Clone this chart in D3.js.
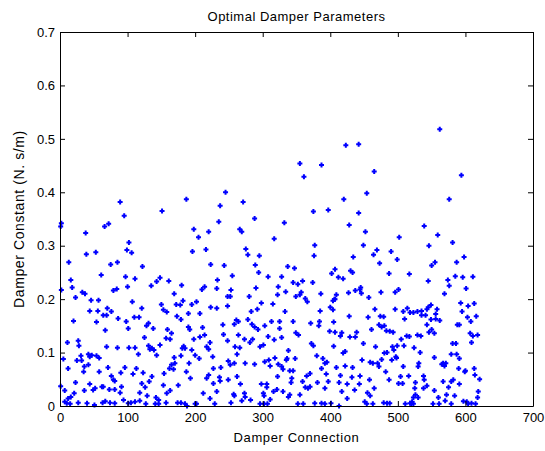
<!DOCTYPE html>
<html>
<head>
<meta charset="utf-8">
<script src="https://cdn.jsdelivr.net/npm/d3@7"></script>
<style>
  html, body { margin: 0; padding: 0; background: #fff; }
  svg { display: block; }
  text { font-family: "Liberation Sans", Arial, Helvetica, sans-serif; fill: #000; }
</style>
</head>
<body>
<svg id="chart" width="545" height="451"></svg>
<script>
// Damper connection index and the optimal damper constant found for it
const connection = [
  89,95,2,1,66,72,38,102,99,106,39,53,13,85,75,122,16,61,97,111,2,18,79,84,100,33,37,23,46,57,107,44,56,70,64,69,76,86,110,117,
  54,98,20,101,67,125,11,27,28,69,85,102,111,116,42,47,44,54,58,5,25,32,31,12,36,35,42,58,71,96,90,113,108,123,76,79,81,1,23,44,
  62,64,52,49,73,81,91,89,121,118,7,36,21,16,12,7,10,15,27,40,51,63,67,74,81,94,101,111,118,105,
  245,187,237,151,235,198,205,220,196,216,223,243,143,148,135,161,180,210,214,233,232,248,169,150,153,158,172,178,182,195,202,223,232,248,121,190,207,173,179,131,
  128,138,190,192,211,159,165,163,157,241,242,248,198,207,214,222,217,220,183,185,181,131,136,139,133,148,143,195,200,206,169,179,226,249,191,162,165,168,170,227,
  238,154,187,136,132,193,220,217,236,237,126,153,175,227,249,163,158,212,232,129,142,146,222,127,141,146,157,174,179,185,188,200,202,229,
  355,361,271,375,288,332,266,269,317,275,278,295,377,376,289,294,337,347,255,308,328,345,352,359,374,253,252,290,323,322,334,357,355,349,363,366,280,298,315,292,
  283,333,261,264,258,278,284,288,293,303,313,325,325,345,371,349,353,264,273,285,281,308,317,328,259,266,296,301,372,375,262,338,252,258,274,288,303,311,318,309,
  323,328,330,335,336,348,340,345,370,365,262,322,343,342,359,363,367,370,267,298,306,306,316,321,330,257,258,273,274,301,302,338,340,355,253,269,282,296,302,307,
  311,352,360,
  423,442,387,465,420,454,397,442,428,452,502,449,469,464,490,434,499,473,407,402,430,433,412,419,487,386,409,407,404,406,427,437,444,446,445,457,475,496,501,385,
  400,404,466,496,428,456,474,479,384,383,405,461,472,476,480,483,488,493,399,407,417,415,439,429,437,405,449,467,492,494,499,480,484,419,422,380,389,392,395,447,
  459,463,470,472,476,491,497,498,387,409,422,433,394,415,432,444,482,458,487,501,381,397,413,425,443,392,436,465,455,459,417,425,377,387,392,401,413,451,454,463,
  479,484,488,
  562,594,576,539,559,546,581,598,555,550,587,517,545,574,576,585,596,611,601,569,593,613,604,514,508,518,523,529,535,545,549,543,541,535,558,556,556,562,510,595,
  616,603,608,588,591,549,543,550,546,554,607,611,618,609,513,517,529,534,505,509,581,586,524,533,579,587,591,554,565,569,567,571,531,530,508,590,599,600,613,614,
  504,516,538,539,621,507,526,567,579,582,591,525,543,538,575,619,554,572,584,526,530,523,560,618,597,570,511,518,521,520,523,552,561,579,602,604,609,615
];
const damperConstant = [
  0.382,0.356,0.342,0.336,0.336,0.341,0.324,0.306,0.292,0.287,0.284,0.288,0.269,0.269,0.265,0.261,0.236,0.245,0.242,0.238,0.217,0.222,0.216,0.219,0.223,0.213,0.210,0.203,0.198,0.198,0.195,0.178,0.178,0.183,0.170,0.170,0.177,0.164,0.166,0.166,
  0.157,0.158,0.159,0.145,0.142,0.128,0.119,0.122,0.113,0.111,0.109,0.109,0.109,0.097,0.097,0.095,0.092,0.094,0.090,0.088,0.085,0.085,0.094,0.070,0.074,0.064,0.077,0.064,0.072,0.072,0.062,0.070,0.060,0.062,0.056,0.049,0.047,0.037,0.044,0.041,
  0.036,0.036,0.033,0.030,0.031,0.031,0.036,0.025,0.042,0.025,0.029,0.029,0.024,0.017,0.014,0.008,0.005,0.004,0.006,0.005,0.002,0.006,0.009,0.006,0.005,0.011,0.005,0.008,0.010,0.006,
  0.400,0.387,0.375,0.365,0.345,0.331,0.316,0.326,0.289,0.293,0.265,0.263,0.233,0.240,0.225,0.234,0.226,0.218,0.223,0.236,0.220,0.205,0.210,0.190,0.180,0.176,0.190,0.189,0.197,0.190,0.195,0.185,0.183,0.187,0.183,0.173,0.173,0.168,0.162,0.155,
  0.150,0.145,0.148,0.143,0.147,0.143,0.136,0.125,0.127,0.152,0.134,0.122,0.125,0.129,0.133,0.119,0.111,0.106,0.112,0.108,0.108,0.113,0.108,0.105,0.106,0.114,0.095,0.105,0.095,0.089,0.091,0.094,0.092,0.084,0.080,0.070,0.077,0.069,0.080,0.070,
  0.072,0.061,0.064,0.055,0.046,0.052,0.058,0.052,0.054,0.047,0.035,0.039,0.039,0.042,0.049,0.029,0.024,0.024,0.027,0.019,0.016,0.011,0.014,0.004,0.004,0.004,0.006,0.006,0.006,0.004,0.000,0.004,0.004,0.004,
  0.454,0.429,0.382,0.364,0.351,0.343,0.331,0.326,0.313,0.294,0.283,0.281,0.301,0.281,0.264,0.250,0.261,0.258,0.244,0.242,0.242,0.231,0.228,0.234,0.231,0.217,0.205,0.221,0.223,0.208,0.214,0.213,0.208,0.205,0.201,0.195,0.205,0.193,0.191,0.181,
  0.177,0.177,0.161,0.158,0.153,0.162,0.153,0.148,0.143,0.150,0.158,0.158,0.145,0.158,0.155,0.137,0.133,0.133,0.125,0.125,0.119,0.130,0.124,0.128,0.111,0.109,0.111,0.114,0.117,0.113,0.097,0.104,0.077,0.080,0.080,0.078,0.083,0.075,0.090,0.086,
  0.078,0.074,0.069,0.086,0.089,0.089,0.066,0.066,0.061,0.056,0.055,0.055,0.052,0.044,0.046,0.035,0.033,0.036,0.041,0.041,0.041,0.035,0.027,0.031,0.027,0.022,0.019,0.024,0.017,0.024,0.019,0.017,0.021,0.021,0.006,0.010,0.011,0.004,0.004,0.004,
  0.012,0.004,0.004,
  0.488,0.490,0.451,0.439,0.387,0.398,0.367,0.361,0.339,0.326,0.316,0.301,0.292,0.283,0.289,0.279,0.274,0.267,0.256,0.248,0.253,0.250,0.241,0.238,0.248,0.210,0.208,0.200,0.197,0.200,0.212,0.216,0.218,0.211,0.222,0.203,0.213,0.213,0.218,0.178,
  0.185,0.180,0.181,0.181,0.168,0.166,0.168,0.167,0.158,0.150,0.157,0.143,0.152,0.148,0.150,0.141,0.140,0.138,0.140,0.138,0.137,0.131,0.138,0.129,0.129,0.112,0.117,0.111,0.111,0.105,0.113,0.099,0.100,0.099,0.102,0.094,0.089,0.080,0.082,0.086,
  0.082,0.080,0.080,0.074,0.087,0.086,0.092,0.090,0.070,0.072,0.075,0.072,0.060,0.057,0.054,0.056,0.064,0.049,0.049,0.042,0.044,0.046,0.044,0.041,0.041,0.033,0.030,0.033,0.025,0.019,0.027,0.014,0.005,0.005,0.004,0.005,0.000,0.008,0.004,0.004,
  0.006,0.005,0.005,
  0.518,0.432,0.387,0.337,0.320,0.300,0.306,0.279,0.269,0.263,0.269,0.247,0.234,0.236,0.225,0.243,0.241,0.242,0.220,0.210,0.193,0.192,0.187,0.183,0.177,0.175,0.175,0.177,0.178,0.185,0.189,0.181,0.170,0.170,0.181,0.172,0.163,0.160,0.163,0.177,
  0.168,0.166,0.158,0.152,0.152,0.162,0.152,0.143,0.138,0.136,0.136,0.131,0.133,0.119,0.131,0.130,0.133,0.131,0.125,0.113,0.117,0.117,0.109,0.100,0.097,0.097,0.089,0.091,0.078,0.075,0.080,0.080,0.080,0.074,0.074,0.070,0.064,0.066,0.070,0.058,
  0.055,0.056,0.056,0.049,0.050,0.042,0.044,0.046,0.046,0.049,0.041,0.033,0.038,0.033,0.035,0.027,0.029,0.021,0.019,0.021,0.016,0.016,0.016,0.016,0.009,0.010,0.004,0.005,0.008,0.004,0.004,0.004,0.004,0.004,0.008,0.004,0.005,0.004
];
const xTicks = [0, 100, 200, 300, 400, 500, 600, 700];
const yTicks = [0, 0.1, 0.2, 0.3, 0.4, 0.5, 0.6, 0.7];

const chartTitle = "Optimal Damper Parameters";
const xTitle = "Damper Connection";
const yTitle = "Damper Constant (N. s/m)";

const svg = d3.select("#chart");
const margin = { top: 32, right: 12, bottom: 45, left: 60 };
const width = 545 - margin.left - margin.right;
const height = 451 - margin.top - margin.bottom;

const x = d3.scaleLinear().domain([0, 700]).range([0, width]);
const y = d3.scaleLinear().domain([0, 0.7]).range([height, 0]);

const g = svg.append("g").attr("transform", `translate(${margin.left},${margin.top})`);

// markers
const points = connection.map((c, i) => ({ c, v: damperConstant[i] }));
const plus = "M-1,-2.5H1V-1H2.5V1H1V2.5H-1V1H-2.5V-1H-1Z";
g.append("g")
  .selectAll("path")
  .data(points)
  .join("path")
  .attr("d", plus)
  .attr("transform", d => `translate(${x(d.c)},${y(d.v)})`)
  .attr("fill", "#0000ff");

// axes with inward ticks on all four sides (boxed frame)
const fontSize = 13;
const styleAxis = sel => {
  sel.selectAll("path.domain").attr("stroke", "#000").attr("stroke-width", 1);
  sel.selectAll(".tick line").attr("stroke", "#000");
  sel.selectAll("text").attr("font-size", fontSize).attr("font-family", "Liberation Sans, Arial, sans-serif").attr("fill", "#000");
};

g.append("g").attr("transform", `translate(0,${height})`)
  .call(d3.axisBottom(x).tickValues(xTicks).tickSizeInner(-5).tickSizeOuter(0).tickPadding(7).tickFormat(d3.format("d")))
  .call(styleAxis);
g.append("g")
  .call(d3.axisTop(x).tickValues(xTicks).tickSizeInner(-5).tickSizeOuter(0).tickFormat(""))
  .call(styleAxis);
g.append("g")
  .call(d3.axisLeft(y).tickValues(yTicks).tickSizeInner(-5).tickSizeOuter(0).tickPadding(5).tickFormat(d => d === 0 ? "0" : d3.format(".1f")(d)))
  .call(styleAxis);
g.append("g").attr("transform", `translate(${width},0)`)
  .call(d3.axisRight(y).tickValues(yTicks).tickSizeInner(-5).tickSizeOuter(0).tickFormat(""))
  .call(styleAxis);

// titles
svg.append("text")
  .attr("x", margin.left + width / 2).attr("y", 21)
  .attr("text-anchor", "middle").attr("font-size", 13)
  .attr("letter-spacing", "0.5px")
  .text(chartTitle);
svg.append("text")
  .attr("x", margin.left + width / 2).attr("y", 442)
  .attr("text-anchor", "middle").attr("font-size", 13)
  .attr("letter-spacing", "0.6px")
  .text(xTitle);
svg.append("text")
  .attr("transform", `translate(24,${margin.top + height / 2}) rotate(-90)`)
  .attr("text-anchor", "middle").attr("font-size", 14)
  .attr("letter-spacing", "0.6px")
  .text(yTitle);
</script>
</body>
</html>
